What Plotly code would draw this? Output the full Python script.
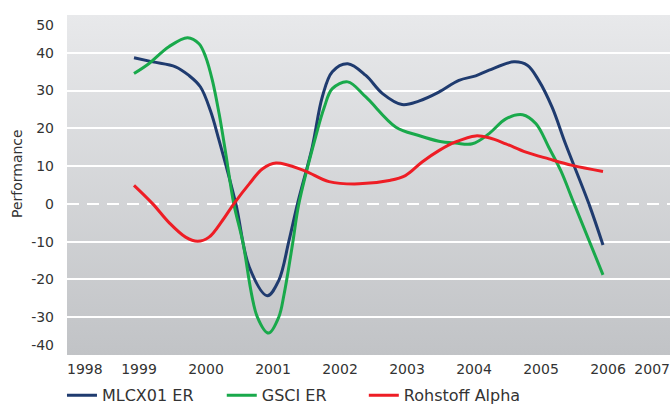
import base64
import plotly.graph_objects as go

# ---------------- data ----------------
mlcx_x = [1999.0, 1999.28, 1999.62, 1999.82, 1999.99, 2000.14, 2000.27, 2000.52, 2000.72,
          2000.99, 2001.16, 2001.31, 2001.44, 2001.66, 2001.81, 2001.96, 2002.19, 2002.46,
          2002.71, 2003.0, 2003.25, 2003.55, 2003.85, 2004.1, 2004.3, 2004.67, 2004.87,
          2005.04, 2005.24, 2005.44, 2005.79, 2006.0]
mlcx_y = [38.7, 37.6, 36.3, 34.0, 31.0, 24.7, 16.8, 0.0, -16.7,
          -24.3, -20.3, -10.0, 0.0, 15.0, 28.3, 35.0, 37.1, 34.0,
          29.2, 26.3, 27.2, 29.6, 32.7, 33.9, 35.4, 37.6, 36.7,
          32.7, 25.6, 15.9, 0.0, -10.9]

gsci_x = [1999.0, 1999.22, 1999.52, 1999.8, 1999.97, 2000.07, 2000.17, 2000.27, 2000.37,
          2000.49, 2000.62, 2000.84, 2001.01, 2001.16, 2001.24, 2001.37, 2001.46, 2001.71,
          2001.84, 2001.96, 2002.19, 2002.46, 2002.91, 2003.25, 2003.55, 2003.8, 2004.05,
          2004.3, 2004.55, 2004.8, 2005.0, 2005.19, 2005.37, 2005.57, 2006.0]
gsci_y = [34.5, 37.1, 41.6, 44.0, 42.4, 38.9, 32.7, 23.9, 13.3,
          0.0, -9.7, -29.9, -34.2, -30.0, -23.9, -10.2, 0.0, 17.7,
          25.6, 30.5, 32.3, 28.3, 20.3, 18.1, 16.6, 16.1, 15.9,
          18.6, 22.5, 23.6, 21.2, 15.0, 8.8, 0.0, -18.8]

alpha_x = [1999.0, 1999.28, 1999.52, 1999.77, 1999.95, 2000.12, 2000.32, 2000.49, 2000.72,
           2000.92, 2001.12, 2001.54, 2001.91, 2002.36, 2002.81, 2003.05, 2003.3, 2003.55,
           2003.8, 2004.1, 2004.3, 2004.55, 2004.85, 2005.19, 2005.54, 2006.0]
alpha_y = [4.9, 0.0, -4.9, -8.8, -9.9, -8.8, -4.4, 0.0, 5.3,
           9.3, 10.8, 8.8, 5.9, 5.3, 6.2, 7.5, 11.1, 14.1,
           16.4, 18.0, 17.5, 15.9, 13.7, 11.9, 10.2, 8.6]

series_names = ["MLCX01 ER", "GSCI ER", "Rohstoff Alpha"]

x_years = [1998, 1999, 2000, 2001, 2002, 2003, 2004, 2005, 2006, 2007]
x_labels = [str(v) for v in x_years]
y_vals = [-40, -30, -20, -10, 0, 10, 20, 30, 40, 50]
y_labels = ["-40", "-30", "-20", "-10", "0", "10", "20", "30", "40", "50"]

# ---------------- style ----------------
FONT = "DejaVu Sans"
TXT = "#333333"
colors = ["#1f3b6f", "#19a94b", "#ee1d25"]

svg = ('<svg xmlns="http://www.w3.org/2000/svg" width="10" height="100" viewBox="0 0 10 100" '
       'preserveAspectRatio="none"><defs><linearGradient id="g" x1="0" y1="0" x2="0" y2="1">'
       '<stop offset="0" stop-color="#e8e9eb"/><stop offset="1" stop-color="#c1c3c6"/>'
       '</linearGradient></defs><rect width="10" height="100" fill="url(#g)"/></svg>')
bg_src = "data:image/svg+xml;base64," + base64.b64encode(svg.encode()).decode()

fig = go.Figure()
for name, xs, ys, col, lg in zip(series_names, [mlcx_x, gsci_x, alpha_x],
                                 [mlcx_y, gsci_y, alpha_y], colors,
                                 ["legend", "legend2", "legend3"]):
    fig.add_trace(go.Scatter(x=xs, y=ys, name=name, mode="lines",
                             line=dict(color=col, width=3, shape="spline", smoothing=1.0),
                             legend=lg, hoverinfo="skip"))

# empty helper traces so the overlaid tick/grid axes get drawn
for xa, ya in [("x2", "y"), ("x3", "y"), ("x", "y2"), ("x", "y3"), ("x", "y4")]:
    fig.add_trace(go.Scatter(x=[None], y=[None], xaxis=xa, yaxis=ya, mode="lines",
                             showlegend=False, hoverinfo="skip"))

xr = [x_years[0], x_years[-1]]
yr = [y_vals[0], y_vals[-1]]
tickfont = dict(family=FONT, size=14, color=TXT)

main_y = [v for v in y_vals if v not in (0, y_vals[0], y_vals[-1])]
main_yt = [y_labels[y_vals.index(v)] for v in main_y]

common_y = dict(range=yr, showline=False, zeroline=False, ticks="", tickfont=tickfont,
                ticklabelstandoff=12, fixedrange=True, automargin=False)
common_x = dict(range=xr, showgrid=False, zeroline=False, showline=False, ticks="",
                tickfont=tickfont, ticklabelstandoff=4, fixedrange=True, automargin=False)

fig.update_layout(
    width=670, height=405,
    margin=dict(l=67, r=0, t=15, b=50, autoexpand=False),
    paper_bgcolor="white", plot_bgcolor="rgba(0,0,0,0)",
    font=dict(family=FONT, size=14, color=TXT),
    showlegend=True,
    images=[dict(source=bg_src, xref="paper", yref="paper", x=0, y=1, sizex=1, sizey=1,
                 xanchor="left", yanchor="top", sizing="stretch", layer="below")],
    xaxis=dict(tickvals=x_years[1:-1], ticktext=x_labels[1:-1], ticklabelshift=5, **common_x),
    xaxis2=dict(overlaying="x", anchor="y", side="bottom", tickvals=[x_years[0]],
                ticktext=[x_labels[0]], ticklabelposition="outside right", **common_x),
    xaxis3=dict(overlaying="x", anchor="y", side="bottom", tickvals=[x_years[-1]],
                ticktext=[x_labels[-1]], ticklabelposition="outside left", **common_x),
    yaxis=dict(tickvals=main_y, ticktext=main_yt, showgrid=True, gridcolor="white",
               gridwidth=2, **common_y),
    yaxis2=dict(overlaying="y", anchor="x", side="left", tickvals=[0], ticktext=["0"],
                showgrid=True, gridcolor="white", gridwidth=2, griddash="12px,8px",
                **common_y),
    yaxis3=dict(overlaying="y", anchor="x", side="left", tickvals=[y_vals[-1]],
                ticktext=[y_labels[-1]], showgrid=False,
                ticklabelposition="outside bottom", **common_y),
    yaxis4=dict(overlaying="y", anchor="x", side="left", tickvals=[y_vals[0]],
                ticktext=[y_labels[0]], showgrid=False,
                ticklabelposition="outside top", **common_y),
    annotations=[dict(text="Performance", xref="paper", yref="paper", x=-0.083, y=0.535,
                      textangle=-90, showarrow=False, xanchor="center", yanchor="middle",
                      font=dict(family=FONT, size=14, color=TXT))],
)

leg_common = dict(orientation="h", bgcolor="rgba(0,0,0,0)", borderwidth=0,
                  font=dict(family=FONT, size=16, color=TXT),
                  xref="container", yref="container",
                  yanchor="middle", y=0.024, xanchor="left")
fig.update_layout(
    legend=dict(x=0.0925, **leg_common),
    legend2=dict(x=0.331, **leg_common),
    legend3=dict(x=0.543, **leg_common),
)

fig.write_html("out.html", config=dict(displayModeBar=False),
               post_script="document.body.style.margin='0';"
                           "document.body.style.overflow='hidden';")
